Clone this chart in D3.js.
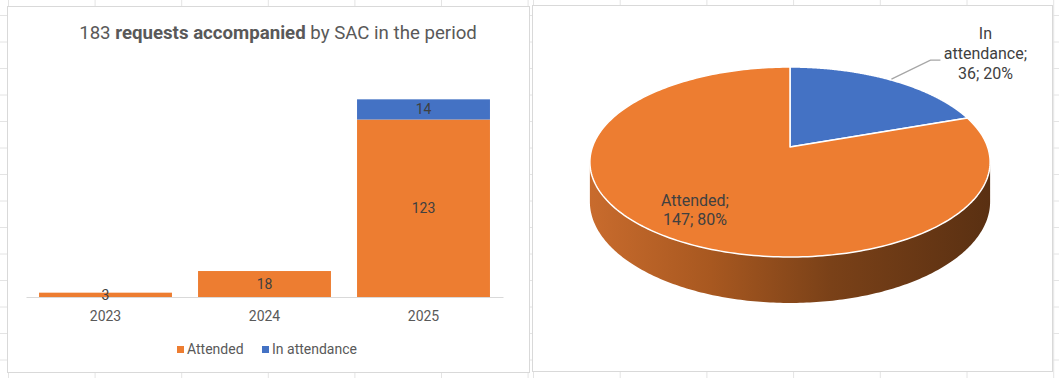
<!DOCTYPE html>
<html>
<head>
<meta charset="utf-8">
<script src="https://cdn.jsdelivr.net/npm/d3@7"></script>
<style>
  html, body { margin: 0; padding: 0; background: #ffffff; }
  svg { display: block; font-family: Roboto, "Noto Sans", sans-serif; }
</style>
</head>
<body>
<svg id="chart" width="1059" height="378"></svg>
<script>
// ---- Data ----
const years = ["2023", "2024", "2025"];
const attended = [3, 18, 123];
const inAttendance = [0, 0, 14];
const seriesNames = ["Attended", "In attendance"];
const pieCategories = ["In attendance", "Attended"];
const pieValues = [36, 147];
const titleParts = [
  { text: "183 ", bold: false },
  { text: "requests accompanied", bold: true },
  { text: " by SAC in the period", bold: false }
];

const ORANGE = "#ED7D31", BLUE = "#4472C4";
const svg = d3.select("#chart");

// ---- spreadsheet background grid ----
const bg = svg.append("g");
const gridColor = "#e4e4e4";
for (let i = 0; i < 8; i++) {
  const x = 8.5 + 86.6 * i;
  if (x < 531) bg.append("line").attr("x1", x).attr("x2", x).attr("y1", 0).attr("y2", 378).attr("stroke", gridColor);
}
for (let i = 0; i < 7; i++) {
  const x = 533.5 + 86.7 * i;
  if (x < 1059) bg.append("line").attr("x1", x).attr("x2", x).attr("y1", 0).attr("y2", 378).attr("stroke", gridColor);
}
for (let i = 0; i < 15; i++) {
  const y = 15.5 + 26.5 * i;
  bg.append("line").attr("x1", 0).attr("x2", 1059).attr("y1", y).attr("y2", y).attr("stroke", gridColor);
}

// chart frames
svg.append("rect").attr("x", 7.5).attr("y", 6.5).attr("width", 522).attr("height", 366)
  .attr("fill", "#fff").attr("stroke", "#d9d9d9");
svg.append("rect").attr("x", 532.5).attr("y", 5.5).attr("width", 520).attr("height", 366)
  .attr("fill", "#fff").attr("stroke", "#d9d9d9");

// ---- Bar chart ----
const title = svg.append("text").attr("x", 278).attr("y", 38.5)
  .attr("text-anchor", "middle").attr("font-size", 18.67).attr("fill", "#595959");
titleParts.forEach(p => title.append("tspan").attr("font-weight", p.bold ? 700 : 400).text(p.text));

const x = d3.scaleBand().domain(years).range([26, 503]).paddingInner(0.164).paddingOuter(0.082);
const y = d3.scaleLinear().domain([0, 140]).range([297, 95]);

const stackData = years.map((yr, i) => ({ year: yr, "Attended": attended[i], "In attendance": inAttendance[i] }));
const stacked = d3.stack().keys(seriesNames)(stackData);
const colors = { "Attended": ORANGE, "In attendance": BLUE };

stacked.forEach(series => {
  const g = svg.append("g");
  series.forEach((d, i) => {
    const v = d[1] - d[0];
    if (v <= 0) return;
    g.append("rect")
      .attr("x", x(years[i])).attr("width", x.bandwidth())
      .attr("y", y(d[1])).attr("height", y(d[0]) - y(d[1]))
      .attr("fill", colors[series.key]);
  });
});

// axis line
const xAxis = svg.append("g").attr("transform", "translate(0,297)")
  .call(d3.axisBottom(x).tickSize(0).tickPadding(0));
xAxis.select(".domain").attr("stroke", "#d9d9d9").attr("stroke-width", 1.2);
xAxis.selectAll("text").attr("font-size", 14).attr("fill", "#595959")
  .attr("font-family", "Roboto, sans-serif").attr("dy", null).attr("y", 24);

// data labels
stacked.forEach(series => {
  series.forEach((d, i) => {
    const v = d[1] - d[0];
    if (v <= 0) return;
    const cy = (y(d[0]) + y(d[1])) / 2;
    svg.append("text").attr("x", x(years[i]) + x.bandwidth() / 2).attr("y", cy + 5)
      .attr("text-anchor", "middle").attr("font-size", 14).attr("fill", "#404040").text(v);
  });
});

// legend
const legendX = [177, 262];
seriesNames.forEach((s, i) => {
  svg.append("rect").attr("x", legendX[i]).attr("y", 346).attr("width", 7).attr("height", 7).attr("fill", colors[s]);
  svg.append("text").attr("x", legendX[i] + 10).attr("y", 354).attr("font-size", 14).attr("fill", "#595959").text(s);
});

// ---- 3D Pie chart ----
const P = { cx: 790, b: 147, a: 69.4, k: -0.158, R: 197.6, d: 38.7 };
function proj(u, v, drop) {
  const s = 1 / (1 + P.k * v);
  return [P.cx + P.R * u * s, (P.a * v + P.b + (drop || 0)) * s];
}
const defs = svg.append("defs");
const grad = defs.append("linearGradient").attr("id", "side").attr("gradientUnits", "userSpaceOnUse")
  .attr("x1", 591).attr("x2", 990).attr("y1", 0).attr("y2", 0);
[[0, "#c86b2d"], [0.3, "#a85820"], [0.6, "#7a4118"], [1, "#5a3012"]].forEach(s =>
  grad.append("stop").attr("offset", s[0]).attr("stop-color", s[1]));

const pieGen = d3.pie().sort(null).value(d => d.v);
const arcs = pieGen(pieCategories.map((c, i) => ({ c, v: pieValues[i] })));
const line = d3.line();

// side (front, visible part)
const t0 = Math.asin(-P.k);
const topPts = [], botPts = [];
for (let t = t0; t <= Math.PI - t0 + 1e-9; t += (Math.PI - 2 * t0) / 200) {
  topPts.push(proj(Math.cos(t), Math.sin(t), 0));
  botPts.push(proj(Math.cos(t), Math.sin(t), P.d));
}
svg.append("path").attr("d", line(topPts.concat(botPts.reverse())) + "Z").attr("fill", "url(#side)");

const pieColors = { "Attended": ORANGE, "In attendance": BLUE };
arcs.forEach(a => {
  const pts = [proj(0, 0)];
  const n = 240;
  for (let j = 0; j <= n; j++) {
    const phi = a.startAngle + (a.endAngle - a.startAngle) * j / n;
    pts.push(proj(Math.sin(phi), -Math.cos(phi)));
  }
  svg.append("path").attr("d", line(pts) + "Z").attr("fill", pieColors[a.data.c])
    .attr("stroke", "#ffffff").attr("stroke-width", 1.5).attr("stroke-linejoin", "round");
});

const total = d3.sum(pieValues);
arcs.forEach(a => {
  const mid = (a.startAngle + a.endAngle) / 2;
  const pct = Math.round(a.data.v / total * 100) + "%";
  if (a.data.c === "Attended") {
    const r = 0.75;
    const [lx, ly] = proj(r * Math.sin(mid), -r * Math.cos(mid));
    const t = svg.append("text").attr("text-anchor", "middle").attr("font-size", 16).attr("fill", "#404040");
    t.append("tspan").attr("x", lx).attr("y", ly - 4).text(a.data.c + ";");
    t.append("tspan").attr("x", lx).attr("y", ly + 15).text(a.data.v + "; " + pct);
  } else {
    const [ex, ey] = proj(Math.sin(mid), -Math.cos(mid));
    svg.append("path").attr("d", line([[ex, ey - 1], [ex + 39, ey - 20], [ex + 49, ey - 20]]))
      .attr("fill", "none").attr("stroke", "#a6a6a6").attr("stroke-width", 1.3);
    const lx = ex + 94;
    const words = a.data.c.split(" ");
    const t = svg.append("text").attr("text-anchor", "middle").attr("font-size", 16).attr("fill", "#404040");
    t.append("tspan").attr("x", lx).attr("y", ey - 41).text(words[0]);
    t.append("tspan").attr("x", lx).attr("y", ey - 21).text(words.slice(1).join(" ") + ";");
    t.append("tspan").attr("x", lx).attr("y", ey - 1.5).text(a.data.v + "; " + pct);
  }
});
</script>
</body>
</html>
